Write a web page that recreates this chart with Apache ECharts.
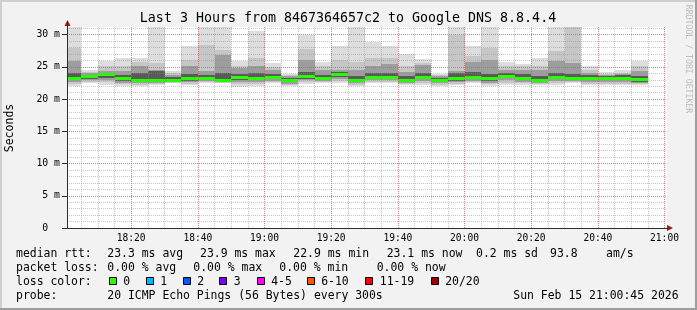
<!DOCTYPE html>
<html><head><meta charset="utf-8">
<script src="https://cdn.jsdelivr.net/npm/echarts@6/dist/echarts.min.js"></script>
<style>html,body{margin:0;padding:0;background:#f2f2f2}#c{width:697px;height:310px}</style>
</head><body><div id="c"></div>
<script>
// ---- data (time in minutes after 18:00, one 5-minute step per bucket; values in ms) ----
const viewStart = 0.75;   // 18:00:45
const viewEnd = 180.75;   // 21:00:45
const bucketStart = [0,5,10,15,20,25,30,35,40,45,50,55,60,65,70,75,80,85,90,95,100,105,110,115,120,125,130,135,140,145,150,155,160,165,170];
const bucketEnd   = [5,10,15,20,25,30,35,40,45,50,55,60,65,70,75,80,85,90,95,100,105,110,115,120,125,130,135,140,145,150,155,160,165,170,175];
const median = [23.36,23.52,23.83,23.21,23.01,23.01,23.01,23.21,23.36,22.90,23.40,23.36,23.47,22.90,23.52,23.32,23.83,23.01,23.47,23.47,22.90,23.47,23.01,23.21,23.47,23.21,23.63,23.36,23.01,23.47,23.27,23.36,23.36,23.36,23.10];
const pMax = [33,24.45,25.96,26.32,26.43,33,24.30,28.29,33,33,25.96,30.51,25.60,23.94,30.00,25.70,28.29,33,28.80,28.29,27.00,26.22,23.94,33,28.18,33,25.70,25.49,26.38,33,33,25.07,24.14,24.45,25.96];
const up2 = [27.93,24.25,25.18,25.18,25.80,25.60,24.09,26.12,28.45,27.56,25.07,26.38,25.03,23.78,27.78,25.18,26.12,25.80,26.43,26.43,25.18,25.65,23.78,30.00,26.63,27.93,25.18,25.07,25.18,27.41,33,24.56,23.83,24.09,25.07];
const up3 = [25.85,24.02,24.30,24.30,25.07,24.45,23.78,25.07,24.30,26.89,24.82,25.18,24.56,23.52,26.12,24.56,24.56,24.45,25.07,25.49,24.25,25.34,23.52,24.30,25.80,26.12,24.45,24.56,24.56,25.85,25.60,24.05,23.71,23.83,24.30];
const up4 = [24.05,23.78,24.02,23.78,24.05,24.30,23.47,23.94,23.78,24.05,23.94,24.05,23.94,23.32,24.14,23.78,24.25,23.52,24.05,24.05,23.52,24.05,23.32,24.05,24.25,23.94,24.05,23.83,23.52,24.05,23.94,23.78,23.55,23.71,23.52];
const low4 = [23.01,23.16,23.32,22.85,22.70,22.70,22.77,22.85,23.01,22.70,23.01,23.01,23.08,22.62,23.16,23.01,23.47,22.70,23.16,23.16,22.62,23.16,22.70,22.85,23.08,22.85,23.24,23.01,22.70,23.08,22.93,23.01,23.01,23.01,22.70];
const low3 = [22.70,22.93,23.01,22.54,22.46,22.54,22.65,22.62,22.85,22.62,22.70,22.70,22.85,22.38,22.93,22.85,23.16,22.46,22.93,22.93,22.46,22.85,22.46,22.62,22.85,22.54,22.93,22.70,22.54,22.77,22.77,22.70,22.70,22.70,22.54];
const low2 = [22.38,22.70,22.70,22.30,22.23,22.38,22.54,22.38,22.70,22.54,22.30,22.38,22.70,22.15,22.70,22.70,22.85,22.23,22.70,22.70,22.30,22.54,22.23,22.38,22.70,22.30,22.54,22.46,22.30,22.46,22.62,22.38,22.38,22.38,22.38];
const pMin = [22.07,22.49,22.23,22.07,22.07,22.23,22.46,22.23,22.49,22.49,21.87,22.07,22.49,22.07,22.38,22.49,22.49,22.07,22.49,22.49,22.23,22.23,22.07,22.23,22.49,22.07,22.23,22.23,22.23,22.23,22.49,22.23,22.23,22.23,22.23];
const yMax = 31.2;
const xTickLabels = {20:'18:20',40:'18:40',60:'19:00',80:'19:20',100:'19:40',120:'20:00',140:'20:20',160:'20:40',180:'21:00'};
const titleText = 'Last 3 Hours from 8467364657c2 to Google DNS 8.8.4.4';
const lossLabels = ['0','1','2','3','4-5','6-10','11-19','20/20'];
const lossColors = ['#26ff00','#00b8ff','#0059ff','#7e00ff','#ff00ff','#ff5500','#ff0000','#a10000'];

// ---- chart ----
const FONT = '"DejaVu Sans Mono", monospace';
const data = bucketStart.map((s,i)=>[s,bucketEnd[i],pMin[i],low2[i],low3[i],low4[i],up4[i],up3[i],up2[i],pMax[i],median[i]]);
const shades = ['#dddddd','#c6c6c6','#9d9d9d','#5a5a5a'];

function renderItem(params, api){
  const cs = params.coordSys;
  let left = api.coord([api.value(0),0])[0], right = api.coord([api.value(1),0])[0];
  left = Math.round(Math.max(left, cs.x)); right = Math.round(Math.min(right, cs.x+cs.width));
  const top = cs.y, bot = cs.y+cs.height;
  const kids = [];
  function band(lo, hi, color){
    let ya = Math.round(Math.max(api.coord([0,hi])[1], top));
    let yb = Math.round(Math.min(api.coord([0,lo])[1], bot));
    kids.push({type:'rect', shape:{x:left,y:ya,width:right-left,height:Math.max(yb-ya,1)}, style:{fill:color}});
  }
  band(api.value(2), api.value(9), shades[0]);
  band(api.value(3), api.value(8), shades[1]);
  band(api.value(4), api.value(7), shades[2]);
  band(api.value(5), api.value(6), shades[3]);
  const ym = Math.round(api.coord([0, api.value(10)])[1]);
  kids.push({type:'rect', shape:{x:left,y:ym-1,width:right-left,height:3}, style:{fill:lossColors[0]}});
  return {type:'group', children:kids};
}

const chart = echarts.init(document.getElementById('c'), null, {renderer:'canvas'});
const grey = 'rgba(143,143,143,0.5)';
const red = 'rgba(222,80,80,0.55)';
const graphics = [];
// frame
graphics.push({type:'rect', shape:{x:0,y:0,width:697,height:2}, style:{fill:'#cfcfcf'}, silent:true});
graphics.push({type:'rect', shape:{x:0,y:0,width:2,height:310}, style:{fill:'#cfcfcf'}, silent:true});
graphics.push({type:'rect', shape:{x:0,y:308,width:697,height:2}, style:{fill:'#9e9e9e'}, silent:true});
graphics.push({type:'rect', shape:{x:695,y:0,width:2,height:310}, style:{fill:'#9e9e9e'}, silent:true});
// arrows
graphics.push({type:'polygon', shape:{points:[[64.5,26],[70.5,26],[67.5,20]]}, style:{fill:'#9b1b1b'}, z:10});
graphics.push({type:'polygon', shape:{points:[[667,225],[667,231],[673,228]]}, style:{fill:'#9b1b1b'}, z:10});
graphics.push({type:'line', shape:{x1:67.5,y1:22,x2:67.5,y2:27}, style:{stroke:'#2c2c2c',lineWidth:1}, z:10});
// title and side texts
function txt(t,x,y,size,opts){
  return Object.assign({type:'text', x:x, y:y, style:Object.assign({text:t, font:size+'px '+FONT, fill:'#000', textAlign:'left', textVerticalAlign:'middle', align:'left', verticalAlign:'middle'}, (opts&&opts.style)||{})}, (opts&&opts.el)||{});
}
graphics.push(txt(titleText, 348, 19, 13.3, {style:{textAlign:'center', align:'center'}}));
graphics.push(txt('Seconds', 10.5, 128, 11.5, {style:{textAlign:'center', align:'center'}, el:{rotation:Math.PI/2}}));
graphics.push(txt('RRDTOOL / TOBI OETIKER', 688, 59, 8.2, {style:{textAlign:'center', align:'center', fill:'#bdbdbd'}, el:{rotation:-Math.PI/2}}));
// legend lines
const L = 11.45;
const rows = [254.3, 268.3, 282, 295.7];
[['median rtt:',16],['23.3 ms avg',107.3],['23.9 ms max',200],['22.9 ms min',293.3],['23.1 ms now',386.7],['0.2 ms sd',476],['93.8',550],['am/s',606]]
  .forEach(([t,x])=>graphics.push(txt(t,x,rows[0],L)));
[['packet loss:',16],['0.00 % avg',107.3],['0.00 % max',193.3],['0.00 % min',279.3],['0.00 % now',376.7]]
  .forEach(([t,x])=>graphics.push(txt(t,x,rows[1],L)));
graphics.push(txt('loss color:',16,rows[2],L));
const sqX = [108.7,145.7,182.7,219.3,256.7,306.7,365.3,430.7];
lossLabels.forEach((lab,i)=>{
  graphics.push({type:'rect', shape:{x:Math.round(sqX[i])+0.5,y:277.5,width:7,height:7}, style:{fill:lossColors[i], stroke:'#000', lineWidth:1}});
  graphics.push(txt(lab, sqX[i]+14.5, rows[2], L));
});
[['probe:',16],['20 ICMP Echo Pings (56 Bytes) every 300s',107.3],['Sun Feb 15 21:00:45 2026',513.3]]
  .forEach(([t,x])=>graphics.push(txt(t,x,rows[3],L)));

const option = {
  animation:false,
  backgroundColor:'#f2f2f2',
  textStyle:{fontFamily:FONT},
  grid:{left:67, right:30, top:27, bottom:82, show:true, backgroundColor:'#ffffff', borderWidth:0},
  xAxis:[{
    type:'value', min:viewStart, max:viewEnd, splitNumber:9, z:4,
    axisLine:{show:true, lineStyle:{color:'#2c2c2c', width:1}},
    axisTick:{show:false},
    axisLabel:{color:'#000', fontSize:9.6, fontFamily:FONT, margin:5, showMinLabel:false, showMaxLabel:false,
      formatter:(v)=> xTickLabels[Math.round(v)] && Math.abs(v-Math.round(v))<1e-6 ? xTickLabels[Math.round(v)] : ''},
    splitLine:{show:true, showMinLine:false, showMaxLine:false, lineStyle:{color:red, type:[1,1], dashOffset:0, width:1}}
  },{
    type:'value', min:viewStart, max:viewEnd, splitNumber:36, z:3, position:'top',
    axisLine:{show:false}, axisTick:{show:false}, axisLabel:{show:false},
    splitLine:{show:true, showMinLine:false, showMaxLine:false, lineStyle:{color:grey, type:[1,1], dashOffset:0, width:1}}
  }],
  yAxis:[{
    type:'value', min:0, max:yMax, interval:5, z:4,
    axisLine:{show:true, lineStyle:{color:'#2c2c2c', width:1}},
    axisTick:{show:true, length:5, lineStyle:{color:'#2c2c2c'}},
    axisLabel:{color:'#000', fontSize:9.8, fontFamily:FONT, margin:7, showMaxLabel:false,
      formatter:(v)=> (Math.abs(v%5)<1e-6) ? (v===0 ? '0  ' : v+' m') : ''},
    splitLine:{show:true, showMinLine:false, showMaxLine:false, lineStyle:{color:red, type:[1,1], dashOffset:0, width:1}}
  },{
    type:'value', min:0, max:yMax, interval:1, z:3, position:'right',
    axisLine:{show:false}, axisTick:{show:false}, axisLabel:{show:false},
    splitLine:{show:true, showMinLine:false, showMaxLine:false, lineStyle:{color:grey, type:[1,1], dashOffset:0, width:1}}
  }],
  series:[{
    type:'custom', xAxisIndex:0, yAxisIndex:0, z:2,
    renderItem:renderItem,
    encode:{x:[0,1], y:[2,9]},
    data:data
  }],
  graphic:{elements:graphics}
};
chart.setOption(option);
</script></body></html>
